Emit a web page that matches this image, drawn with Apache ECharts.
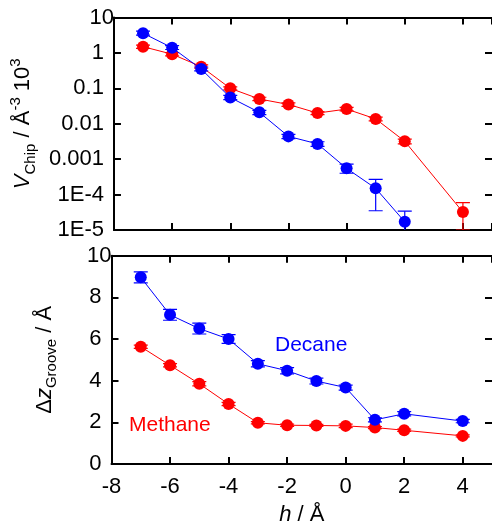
<!DOCTYPE html>
<html>
<head>
<meta charset="utf-8">
<script src="https://cdn.jsdelivr.net/npm/echarts@6/dist/echarts.min.js"></script>
<style>html,body{margin:0;padding:0;background:#fff;overflow:hidden;}#c{width:492px;height:527px;}</style>
</head>
<body>
<div id="c"></div>
<script>
// ---- data ----
const hDecane = [-7, -6, -5, -4, -3, -2, -1, 0, 1, 2, 4];
const hMethane = [-7, -6, -5, -4, -3, -2, -1, 0, 1, 2, 4];

// V_Chip (top panel, log scale)
const hDecaneV = [-7, -6, -5, -4, -3, -2, -1, 0, 1, 2];
const decaneV   = [3.6, 1.4, 0.35, 0.055, 0.021, 0.0044, 0.0027, 0.00055, 0.00015, 0.000017];
const decaneVLo = [3.2, 1.25, 0.31, 0.048, 0.018, 0.0038, 0.0023, 0.0004, 0.000035, 0.000005];
const decaneVHi = [4.1, 1.6, 0.4, 0.063, 0.024, 0.005, 0.0031, 0.00072, 0.00027, 0.000034];
const methaneV   = [1.5, 0.92, 0.41, 0.1, 0.05, 0.035, 0.02, 0.026, 0.0137, 0.0032, 0.000032];
const methaneVLo = [1.35, 0.83, 0.37, 0.09, 0.045, 0.031, 0.018, 0.023, 0.012, 0.0027, 0.00001];
const methaneVHi = [1.65, 1.02, 0.46, 0.11, 0.056, 0.039, 0.022, 0.029, 0.0153, 0.0037, 0.000059];

// Delta z_Groove (bottom panel)
const decaneZ    = [8.96, 7.16, 6.5, 6.0, 4.81, 4.48, 3.98, 3.67, 2.12, 2.41, 2.06];
const decaneZErr = [0.26, 0.26, 0.26, 0.21, 0.15, 0.15, 0.14, 0.12, 0.1, 0.1, 0.08];
const methaneZ    = [5.63, 4.74, 3.85, 2.88, 1.98, 1.86, 1.85, 1.83, 1.75, 1.62, 1.35];
const methaneZErr = [0.08, 0.08, 0.1, 0.08, 0.05, 0.05, 0.05, 0.08, 0.05, 0.05, 0.05];

const xTicks = [-8, -6, -4, -2, 0, 2, 4];
const logTickLabels = {'10': '10', '1': '1', '0.1': '0.1', '0.01': '0.01', '0.001': '0.001', '0.0001': '1E-4', '0.00001': '1E-5'};
const decaneLabel = 'Decane';
const methaneLabel = 'Methane';

const BLUE = '#0000ff', RED = '#ff0000';
const FONT = "'Liberation Sans', Arial, sans-serif";

function pairs(xs, ys) { return xs.map((x, i) => [x, ys[i]]); }
function errData(xs, lo, hi) { return xs.map((x, i) => [x, lo[i], hi[i]]); }

function errRender(color) {
  return function (params, api) {
    const x = api.value(0), lo = api.value(1), hi = api.value(2);
    const a = api.coord([x, lo]);
    const b = api.coord([x, hi]);
    const w = 7;
    const st = {stroke: color, lineWidth: 1.2};
    return {type: 'group', children: [
      {type: 'line', shape: {x1: a[0], y1: a[1], x2: b[0], y2: b[1]}, style: st},
      {type: 'line', shape: {x1: a[0] - w, y1: a[1], x2: a[0] + w, y2: a[1]}, style: st},
      {type: 'line', shape: {x1: b[0] - w, y1: b[1], x2: b[0] + w, y2: b[1]}, style: st}
    ]};
  };
}

const axisLineStyle = {show: true, onZero: false, lineStyle: {color: '#000', width: 2}};
const hiddenLine = {show: false, onZero: false};
const tickStyle = {show: true, inside: true, length: 7, lineStyle: {color: '#000', width: 2}};
const labelFont = {fontFamily: FONT, fontSize: 22, color: '#000'};
const labelRich = {big: {fontFamily: FONT, fontSize: 22, color: '#000', padding: [0, -10, 0, 0]}};

function xAx(grid, showLabel, pos) {
  return {
    type: 'value', gridIndex: grid, min: -8, max: 5, interval: 2, position: pos,
    axisLine: axisLineStyle, axisTick: tickStyle, splitLine: {show: false},
    axisLabel: Object.assign({show: showLabel, margin: 12, showMaxLabel: false}, labelFont)
  };
}

const grids = [
  {left: 111.5, top: 17.5, right: 0, height: 212.5},
  {left: 111.5, top: 255.7, right: 0, height: 212}
];

const richBase = {
  n: {fontFamily: FONT, fontSize: 22, lineHeight: 30, color: '#000'},
  i: {fontFamily: FONT, fontSize: 22, lineHeight: 30, fontStyle: 'italic', color: '#000'},
  sub: {fontFamily: FONT, fontSize: 15, lineHeight: 15, verticalAlign: 'bottom', color: '#000'},
  sup: {fontFamily: FONT, fontSize: 15, lineHeight: 15, verticalAlign: 'top', color: '#000'}
};

const option = {
  animation: false,
  backgroundColor: '#fff',
  grid: grids,
  xAxis: [
    xAx(0, false, 'bottom'),
    xAx(0, false, 'top'),
    Object.assign(xAx(1, true, 'bottom'), {
      name: '{i|h}{n| / Å}', nameLocation: 'middle', nameGap: 36,
      nameTextStyle: {rich: richBase}
    }),
    xAx(1, false, 'top')
  ],
  yAxis: [
    {
      type: 'log', logBase: 10, gridIndex: 0, min: 0.00001, max: 10, splitNumber: 6,
      axisLine: axisLineStyle, axisTick: tickStyle, splitLine: {show: false}, minorTick: {show: false},
      axisLabel: Object.assign({margin: 10, rich: labelRich, formatter: function (v) {
        const k = Object.keys(logTickLabels).find(s => Math.abs(Math.log10(+s) - Math.log10(v)) < 1e-6);
        if (!k) return '';
        return k === '10' ? '{big|10}' : logTickLabels[k];
      }}, labelFont),
      name: '{i|V}{sub|Chip}{n| / Å}{sup|-3}{n| 10}{sup|3}', nameLocation: 'middle', nameGap: 67, nameRotate: 90,
      nameTextStyle: {rich: richBase}
    },
    {
      type: 'log', logBase: 10, gridIndex: 0, min: 0.00001, max: 10, splitNumber: 6, position: 'right',
      axisLine: hiddenLine, axisTick: tickStyle, splitLine: {show: false}, axisLabel: {show: false}
    },
    {
      type: 'value', gridIndex: 1, min: 0, max: 10, interval: 2,
      axisLine: axisLineStyle, axisTick: tickStyle, splitLine: {show: false},
      axisLabel: Object.assign({margin: 10, rich: labelRich, formatter: function (v) {
        return v === 10 ? '{big|10}' : String(v);
      }}, labelFont),
      name: '{n|Δ}{i|z}{sub|Groove}{n| / Å}', nameLocation: 'middle', nameGap: 52, nameRotate: 90,
      nameTextStyle: {rich: richBase}
    },
    {
      type: 'value', gridIndex: 1, min: 0, max: 10, interval: 2, position: 'right',
      axisLine: hiddenLine, axisTick: tickStyle, splitLine: {show: false}, axisLabel: {show: false}
    }
  ],
  graphic: [
    {type: 'text', left: 275, top: 335, style: {text: decaneLabel, fill: BLUE, font: '21px ' + FONT}},
    {type: 'text', left: 129, top: 415, style: {text: methaneLabel, fill: RED, font: '21px ' + FONT}}
  ],
  series: [
    // top panel
    {type: 'line', xAxisIndex: 0, yAxisIndex: 0, data: pairs(hMethane, methaneV), symbol: 'circle', symbolSize: 12,
      itemStyle: {color: RED}, lineStyle: {color: RED, width: 1}, z: 3},
    {type: 'custom', xAxisIndex: 0, yAxisIndex: 0, data: errData(hMethane, methaneVLo, methaneVHi), renderItem: errRender(RED), clip: true, z: 3},
    {type: 'line', xAxisIndex: 0, yAxisIndex: 0, data: pairs(hDecaneV, decaneV), symbol: 'circle', symbolSize: 12,
      itemStyle: {color: BLUE}, lineStyle: {color: BLUE, width: 1}, z: 4},
    {type: 'custom', xAxisIndex: 0, yAxisIndex: 0, data: errData(hDecaneV, decaneVLo, decaneVHi), renderItem: errRender(BLUE), clip: true, z: 4},
    // bottom panel
    {type: 'line', xAxisIndex: 2, yAxisIndex: 2, data: pairs(hMethane, methaneZ), symbol: 'circle', symbolSize: 12,
      itemStyle: {color: RED}, lineStyle: {color: RED, width: 1}, z: 3},
    {type: 'custom', xAxisIndex: 2, yAxisIndex: 2,
      data: errData(hMethane, methaneZ.map((v, i) => v - methaneZErr[i]), methaneZ.map((v, i) => v + methaneZErr[i])),
      renderItem: errRender(RED), clip: true, z: 3},
    {type: 'line', xAxisIndex: 2, yAxisIndex: 2, data: pairs(hDecane, decaneZ), symbol: 'circle', symbolSize: 12,
      itemStyle: {color: BLUE}, lineStyle: {color: BLUE, width: 1}, z: 4},
    {type: 'custom', xAxisIndex: 2, yAxisIndex: 2,
      data: errData(hDecane, decaneZ.map((v, i) => v - decaneZErr[i]), decaneZ.map((v, i) => v + decaneZErr[i])),
      renderItem: errRender(BLUE), clip: true, z: 4}
  ]
};

const chart = echarts.init(document.getElementById('c'), null, {renderer: 'canvas'});
chart.setOption(option);
</script>
</body>
</html>
